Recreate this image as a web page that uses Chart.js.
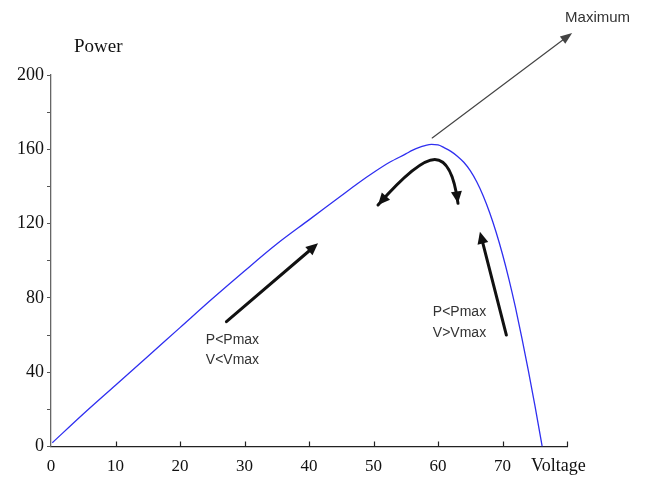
<!DOCTYPE html>
<html>
<head>
<meta charset="utf-8">
<script src="https://cdn.jsdelivr.net/npm/chart.js@4/dist/chart.umd.min.js"></script>
<style>
  html, body { margin: 0; padding: 0; background: #fff; }
  #wrap { width: 649px; height: 481px; position: relative; }
</style>
</head>
<body>
<div id="wrap"><canvas id="pv-chart"></canvas></div>
<script>
// P-V curve
const voltage = [0.2, 5, 10, 15, 20, 25, 30, 35, 40, 42.5, 45, 47.5, 50, 52.5, 55, 56, 57, 58, 59, 60, 61, 62, 63, 64, 65, 66, 67, 68, 69, 70, 71, 72, 73, 74, 75, 76, 76.15];
const power = [2, 17.5, 33, 48.5, 64, 79.5, 94.5, 109, 122, 128.5, 135, 141.5, 147.5, 153, 157.5, 159.4, 160.9, 162, 162.6, 162.4, 160.8, 158.9, 156.3, 153, 148.5, 142.5, 135, 126, 115.5, 103.5, 90, 75, 58.5, 41, 22.5, 3, 0];

const xTicks = [0, 10, 20, 30, 40, 50, 60, 70, 80];
const yTickLabels = [0, 40, 80, 120, 160, 200];

// annotation arrows, in data units (V, P)
const straightArrows = [
  { from: [59.1, 166.1], to: [80.8, 222.6], color: "#444", width: 1.2, head: [12, 4.5] },
  { from: [27.2, 67.2], to: [41.4, 109.4], color: "#111", width: 3, head: [12, 5.5] },
  { from: [70.6, 60], to: [66.5, 115.6], color: "#111", width: 3, head: [12, 5.5] }
];
const curvedArrow = { start: [50.7, 130], c1: [56.9, 154.5], peak: [59.5, 154.5], c2: [62.2, 154.5], end: [63.1, 130.9] };

const notes = [
  { text: "Maximum", at: [79.7, 230.7], font: "15px 'Liberation Sans', Arial, sans-serif", color: "#333", align: "left" },
  { text: "P<Pmax", at: [24, 57.5], font: "14px 'Liberation Sans', Arial, sans-serif", color: "#333", align: "left" },
  { text: "V<Vmax", at: [24, 46.5], font: "14px 'Liberation Sans', Arial, sans-serif", color: "#333", align: "left" },
  { text: "P<Pmax", at: [59.2, 72.5], font: "14px 'Liberation Sans', Arial, sans-serif", color: "#333", align: "left" },
  { text: "V>Vmax", at: [59.2, 61], font: "14px 'Liberation Sans', Arial, sans-serif", color: "#333", align: "left" }
];

function arrowHead(ctx, x0, y0, x1, y1, len, half, color) {
  const a = Math.atan2(y1 - y0, x1 - x0);
  ctx.save();
  ctx.fillStyle = color;
  ctx.translate(x1, y1);
  ctx.rotate(a);
  ctx.beginPath();
  ctx.moveTo(0, 0);
  ctx.lineTo(-len, -half);
  ctx.lineTo(-len, half);
  ctx.closePath();
  ctx.fill();
  ctx.restore();
}

const annotations = {
  id: "annotations",
  afterDraw(chart) {
    const { ctx, scales: { x, y } } = chart;
    const px = p => [x.getPixelForValue(p[0]), y.getPixelForValue(p[1])];

    // inner tick marks on the voltage axis
    ctx.save();
    ctx.strokeStyle = "#222";
    ctx.lineWidth = 1.2;
    xTicks.forEach(v => {
      if (v === 0) return;
      const xp = Math.round(x.getPixelForValue(v)) + 0.5;
      ctx.beginPath();
      ctx.moveTo(xp, y.bottom);
      ctx.lineTo(xp, y.bottom - 5);
      ctx.stroke();
    });
    ctx.restore();

    ctx.save();
    ctx.lineCap = "round";
    straightArrows.forEach(a => {
      const [x0, y0] = px(a.from);
      const [x1, y1] = px(a.to);
      const ang = Math.atan2(y1 - y0, x1 - x0);
      ctx.strokeStyle = a.color;
      ctx.lineWidth = a.width;
      ctx.beginPath();
      ctx.moveTo(x0, y0);
      ctx.lineTo(x1 - Math.cos(ang) * a.head[0] * 0.7, y1 - Math.sin(ang) * a.head[0] * 0.7);
      ctx.stroke();
      arrowHead(ctx, x0, y0, x1, y1, a.head[0], a.head[1], a.color);
    });

    const s = px(curvedArrow.start), c1 = px(curvedArrow.c1), pk = px(curvedArrow.peak);
    const c2 = px(curvedArrow.c2), e = px(curvedArrow.end);
    ctx.strokeStyle = "#111";
    ctx.lineWidth = 3;
    ctx.beginPath();
    ctx.moveTo(s[0], s[1]);
    ctx.quadraticCurveTo(c1[0], c1[1], pk[0], pk[1]);
    ctx.quadraticCurveTo(c2[0], c2[1], e[0], e[1]);
    ctx.stroke();
    arrowHead(ctx, c1[0], c1[1], s[0], s[1], 12, 5.5, "#111");
    arrowHead(ctx, c2[0], c2[1], e[0], e[1], 12, 5.5, "#111");
    ctx.restore();

    ctx.save();
    ctx.textBaseline = "middle";
    notes.forEach(n => {
      const [tx, ty] = px(n.at);
      ctx.font = n.font;
      ctx.fillStyle = n.color;
      ctx.textAlign = n.align;
      ctx.fillText(n.text, tx, ty);
    });
    // axis names
    ctx.font = "19px 'Liberation Serif', 'Times New Roman', serif";
    ctx.fillStyle = "#111";
    ctx.textAlign = "left";
    ctx.fillText("Power", 74, 47);
    ctx.font = "18px 'Liberation Serif', 'Times New Roman', serif";
    ctx.fillText("Voltage", 531, 466);
    ctx.restore();
  }
};

const curve = voltage.map((v, i) => ({ x: v, y: power[i] }));

new Chart(document.getElementById("pv-chart"), {
  type: "scatter",
  data: {
    datasets: [{
      data: curve,
      showLine: true,
      borderColor: "#2f2ff0",
      borderWidth: 1.3,
      pointRadius: 0,
      cubicInterpolationMode: "monotone",
      fill: false
    }]
  },
  options: {
    responsive: true,
    maintainAspectRatio: false,
    animation: false,
    layout: { padding: { left: 0, top: 75, right: 82, bottom: 0 } },
    plugins: { legend: { display: false }, tooltip: { enabled: false } },
    scales: {
      x: {
        type: "linear",
        min: 0,
        max: 80,
        afterBuildTicks: s => { s.ticks = xTicks.map(v => ({ value: v })); },
        afterFit: s => { s.height = 34.5; },
        grid: { drawOnChartArea: false, drawTicks: false },
        border: { color: "#222", width: 1.3 },
        ticks: {
          padding: 10,
          color: "#111",
          font: { family: "'Liberation Serif', 'Times New Roman', serif", size: 17 },
          callback: v => (v === 80 ? "" : v)
        }
      },
      y: {
        min: 0,
        max: 200,
        afterFit: s => { s.width = 51; },
        grid: { drawOnChartArea: false, tickLength: 4, color: "#555" },
        border: { color: "#666", width: 1.3 },
        ticks: {
          stepSize: 20,
          padding: 3,
          color: "#111",
          font: { family: "'Liberation Serif', 'Times New Roman', serif", size: 18 },
          callback: v => (yTickLabels.includes(v) ? v : "")
        }
      }
    }
  },
  plugins: [annotations]
});
</script>
</body>
</html>
